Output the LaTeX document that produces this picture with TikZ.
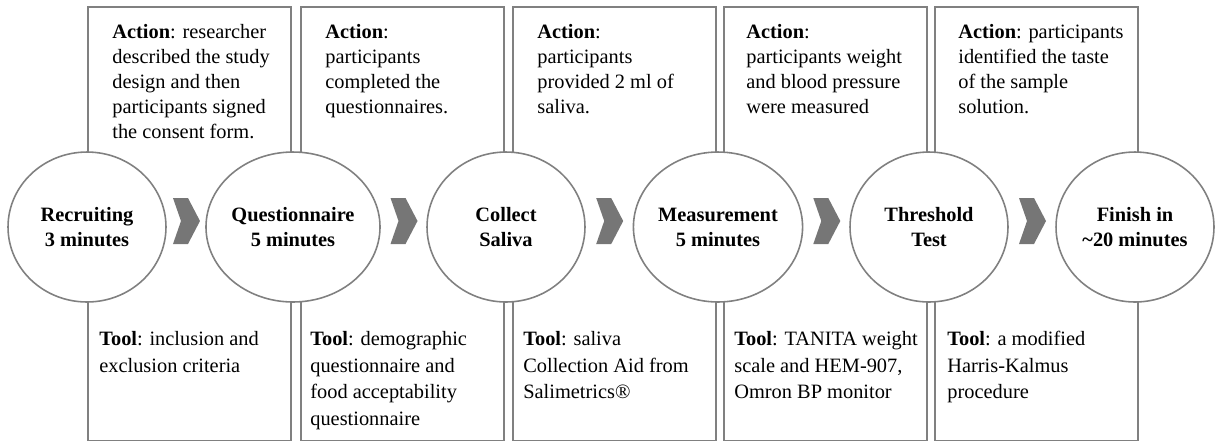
\documentclass[tikz,border=0pt]{standalone}
\usepackage{fontspec}
\setmainfont{Liberation Serif}
\usetikzlibrary{shapes.geometric,calc}

\definecolor{linegray}{RGB}{128,128,128}
\definecolor{chevgray}{RGB}{118,118,118}

\begin{document}
\begin{tikzpicture}[
		x=0.02cm, y=-0.02cm,
		every node/.style={inner sep=0pt},
		stepnode/.style={ellipse, draw=linegray, line width=0.9pt, fill=white,
				minimum width=3.16cm, minimum height=3cm, align=center,
				font=\fontsize{11.6}{14.2}\selectfont\bfseries},
		actbox/.style={anchor=north west, minimum width=4.05cm, minimum height=3.26cm},
		toolbox/.style={anchor=north west, minimum width=4.05cm, minimum height=3cm},
		boxline/.style={draw=linegray, line width=0.9pt},
		acttext/.style={anchor=north west, align=left, font=\fontsize{11.6}{14.2}\selectfont},
		tooltext/.style={anchor=north west, align=left, font=\fontsize{11.6}{15.1}\selectfont}
	]
	\useasboundingbox (0,0) rectangle (1217,441);

	% boxes above and below
	\node[actbox] (act1) at (88,7) {};
	\node[actbox] (act2) at (301,7) {};
	\node[actbox] (act3) at (513,7) {};
	\node[actbox] (act4) at (724,7) {};
	\node[actbox] (act5) at (935,7) {};
	\node[toolbox] (tool1) at (88,290) {};
	\node[toolbox] (tool2) at (301,290) {};
	\node[toolbox] (tool3) at (513,290) {};
	\node[toolbox] (tool4) at (724,290) {};
	\node[toolbox] (tool5) at (935,290) {};
	\foreach \i in {1,...,5} {
		\draw[boxline] (act\i.south west) |- (act\i.north east) -- (act\i.south east);
		\draw[boxline] (tool\i.north west) |- (tool\i.south east) -- (tool\i.north east);
	}

	% steps
	\node[stepnode] (rec) at (87,227) {Recruiting\\3 minutes};
	\node[stepnode] (que) at (293,227) {Questionnaire\\5 minutes};
	\node[stepnode] (sal) at (506,227) {Collect\\Saliva};
	\node[stepnode] (mea) at (718,227) {Measurement\\5 minutes};
	\node[stepnode] (thr) at (929,227) {Threshold\\Test};
	\node[stepnode] (fin) at (1135,227) {Finish in\\\textasciitilde20 minutes};

	\foreach \a/\b in {rec/que,que/sal,sal/mea,mea/thr,thr/fin}
		\fill[chevgray] ($(\a.east)!0.5!(\b.west)$) ++(-13,-29) -- ++(15,0) -- ++(12,23)
			-- ++(-12,23) -- ++(-15,0) -- ++(8,-23) -- cycle;

	% texts
	\node[acttext] (acttxt1) at ([shift={(24,17)}]act1.north west)
		{\textbf{Action}: researcher\\described the study\\design and then\\participants signed\\the consent form.};
	\node[acttext] (acttxt2) at ([shift={(24,17)}]act2.north west)
		{\textbf{Action}:\\participants\\completed the\\questionnaires.};
	\node[acttext] (acttxt3) at ([shift={(24,17)}]act3.north west)
		{\textbf{Action}:\\participants\\provided 2 ml of\\saliva.};
	\node[acttext] (acttxt4) at ([shift={(22,17)}]act4.north west)
		{\textbf{Action}:\\participants weight\\and blood pressure\\were measured};
	\node[acttext] (acttxt5) at ([shift={(23,17)}]act5.north west)
		{\textbf{Action}: participants\\identified the taste\\of the sample\\solution.};

	\node[tooltext] (tooltxt1) at ([shift={(11,41)}]tool1.north west)
		{\textbf{Tool}: inclusion and\\exclusion criteria};
	\node[tooltext] (tooltxt2) at ([shift={(9,41)}]tool2.north west)
		{\textbf{Tool}: demographic\\questionnaire and\\food acceptability\\questionnaire};
	\node[tooltext] (tooltxt3) at ([shift={(10,41)}]tool3.north west)
		{\textbf{Tool}: saliva\\Collection Aid from\\Salimetrics®};
	\node[tooltext] (tooltxt4) at ([shift={(10,41)}]tool4.north west)
		{\textbf{Tool}: TANITA weight\\scale and HEM-907,\\Omron BP monitor};
	\node[tooltext] (tooltxt5) at ([shift={(12,41)}]tool5.north west)
		{\textbf{Tool}: a modified\\Harris-Kalmus\\procedure};
\end{tikzpicture}
\end{document}
